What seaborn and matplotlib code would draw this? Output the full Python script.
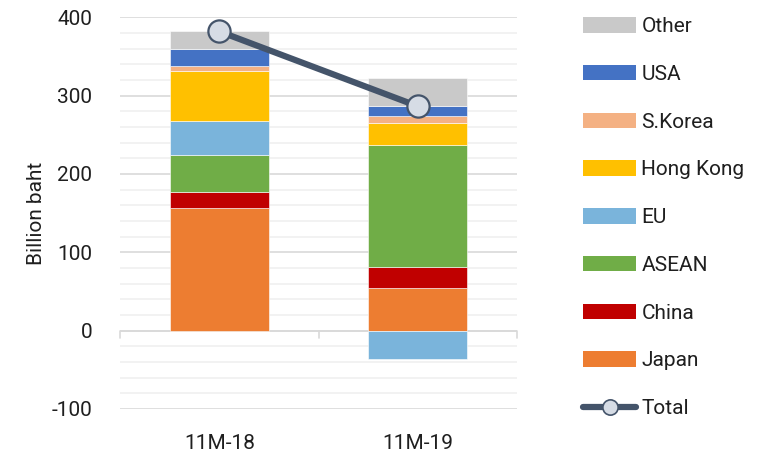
import matplotlib
matplotlib.use("Agg")
import matplotlib.pyplot as plt
from matplotlib.ticker import MultipleLocator
from matplotlib.lines import Line2D
from matplotlib.patches import Patch
import seaborn as sns
import numpy as np

# Data (billion baht)
periods = ["11M-18", "11M-19"]
japan = [157.0, 55.0]
china = [19.5, 26.3]
asean = [48.0, 155.3]
eu = [43.0, -36.0]
hong_kong = [63.5, 28.8]
s_korea = [6.5, 8.4]
usa = [22.5, 12.7]
other = [22.0, 36.0]
total = [382.0, 286.5]

series = [
    ("Japan", japan, "#ED7D31"),
    ("China", china, "#C00000"),
    ("ASEAN", asean, "#70AD47"),
    ("EU", eu, "#7AB4DB"),
    ("Hong Kong", hong_kong, "#FFC000"),
    ("S.Korea", s_korea, "#F4B183"),
    ("USA", usa, "#4472C4"),
    ("Other", other, "#C9C9C9"),
]

sns.set_theme(style="white")
plt.rcParams["font.family"] = ["Roboto", "DejaVu Sans"]
plt.rcParams["axes.unicode_minus"] = False

FS = 15
TXT = "#1F1F1F"

fig = plt.figure(figsize=(7.71, 4.58), dpi=100)
ax = fig.add_axes([120 / 771, 1 - 409 / 458, (517 - 120) / 771, (409 - 17.3) / 458])

# Stack positives upward and negatives downward from zero
pos_base = np.zeros(len(periods))
neg_base = np.zeros(len(periods))
for name, vals, col in series:
    vals = np.asarray(vals, dtype=float)
    bottoms = np.where(vals >= 0, pos_base, neg_base)
    sns.barplot(x=periods, y=vals, bottom=bottoms, color=col, width=0.5,
                edgecolor="white", linewidth=0.4, saturation=1, ax=ax, zorder=3)
    pos_base = pos_base + np.where(vals >= 0, vals, 0)
    neg_base = neg_base + np.where(vals < 0, vals, 0)

sns.lineplot(x=[0, 1], y=total, ax=ax, color="#44546A", linewidth=4.5,
             marker="o", markersize=16, markerfacecolor="#D6DCE5",
             markeredgecolor="#44546A", markeredgewidth=1.6, zorder=5)

ax.set_xlim(-0.5, 1.5)
ax.set_ylim(-100, 400)
ax.yaxis.set_major_locator(MultipleLocator(100))
ax.yaxis.set_minor_locator(MultipleLocator(20))
ax.grid(which="major", axis="y", color="#D9D9D9", linewidth=1.2, zorder=0)
ax.grid(which="minor", axis="y", color="#F0F0F0", linewidth=1.2, zorder=0)
ax.grid(which="major", axis="x", visible=False)
ax.set_axisbelow(True)
for s in ax.spines.values():
    s.set_visible(False)

# Category axis drawn along zero with dividers between categories
ax.axhline(0, color="#D9D9D9", linewidth=1.2, zorder=2)
for xb in [-0.5, 0.5, 1.5]:
    ax.plot([xb, xb], [0, -9], color="#D9D9D9", linewidth=1.2, zorder=2, clip_on=False)

ax.tick_params(axis="y", which="both", length=0, labelsize=FS, colors=TXT, pad=20)
ax.tick_params(axis="x", length=0, labelsize=FS, colors=TXT, pad=18)
ax.set_xticks([0, 1])
ax.set_xticklabels(periods)
ax.set_xlabel("")
ax.set_ylabel("Billion baht", fontsize=FS, color=TXT, labelpad=4)

handles = [Patch(facecolor=c, edgecolor="none") for _, _, c in series][::-1]
labels = [n for n, _, _ in series][::-1]
handles.append(Line2D([0], [0], color="#44546A", linewidth=4.5, marker="o",
                      markersize=11, markerfacecolor="#D6DCE5",
                      markeredgecolor="#44546A", markeredgewidth=1.2,
                      solid_capstyle="round"))
labels.append("Total")
fig.legend(handles, labels, loc="upper left", bbox_to_anchor=(583 / 771, 1 - 17 / 458),
           frameon=False, fontsize=FS, labelcolor=TXT, handlelength=2.55, handleheight=0.77,
           handletextpad=0.25, labelspacing=1.38, borderpad=0, borderaxespad=0)

fig.savefig("out.png", dpi=100)
